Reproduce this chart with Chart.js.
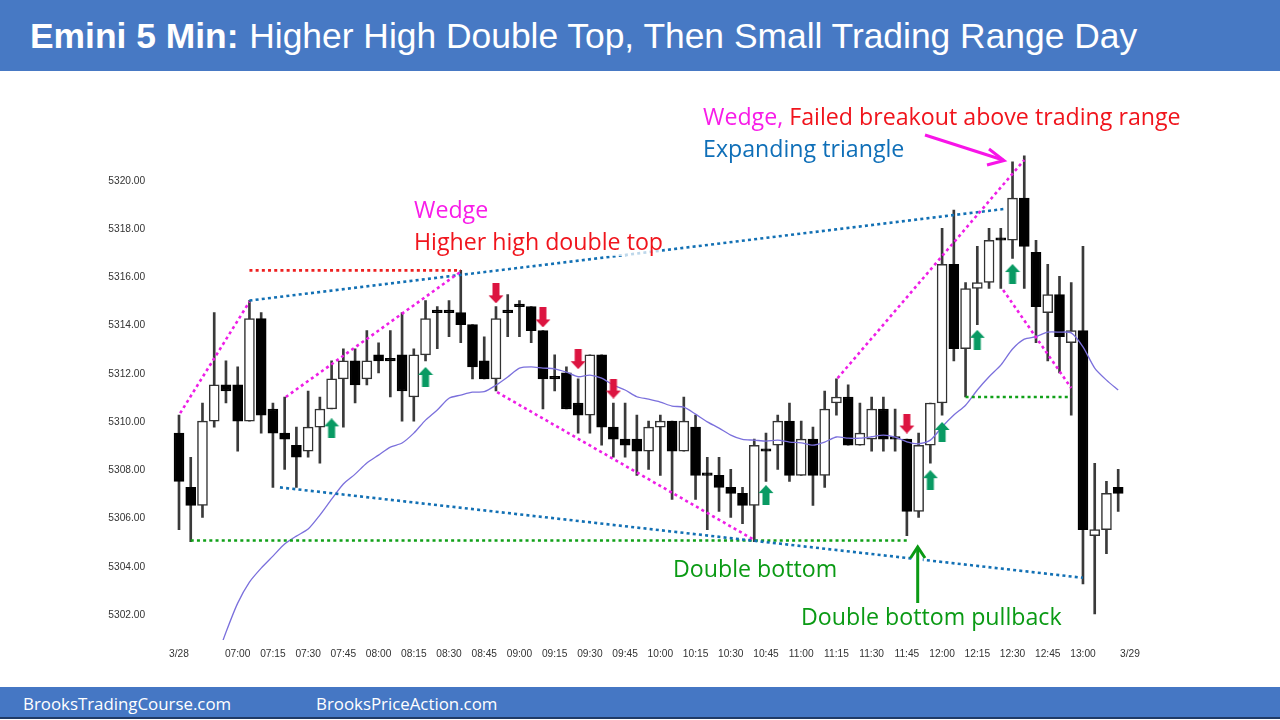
<!DOCTYPE html>
<html>
<head>
<meta charset="utf-8">
<title>Emini 5 Min</title>
<script src="https://cdn.jsdelivr.net/npm/chart.js@4"></script>
<style>
  html, body { margin: 0; padding: 0; background: #fff; }
  #wrap { position: relative; width: 1280px; height: 720px; overflow: hidden; }
  canvas { position: absolute; left: 0; top: 0; }
  .banner { position: absolute; left: 0; top: 0; width: 1280px; height: 70.5px; background: #4779c4; }
  .title { position: absolute; left: 30px; top: 16px; color: #fff; font: 35.4px "Liberation Sans", sans-serif; white-space: nowrap; }
  .title b { margin-right: 1px; }
  .footer { position: absolute; left: 0; top: 687px; width: 1280px; background: #4577c4; border-bottom: 2px solid #1f3a66; height: 30px; }
  .site { position: absolute; top: 5px; color: #fff; font: 16.85px "Open Sans", sans-serif; white-space: nowrap; }
  .note { position: absolute; font: 23.2px "Open Sans", sans-serif; white-space: nowrap; line-height: 28px; }
  .fade { position: absolute; left: 550px; top: 232px; width: 112px; height: 24px; background: rgba(255,255,255,0.72); }
  svg { position: absolute; left: 0; top: 0; }
</style>
</head>
<body>
<div id="wrap">
  <canvas id="chart" width="1280" height="720"></canvas>
  <div class="banner"></div>
  <div class="title"><b>Emini 5 Min:</b> Higher High Double Top, Then Small Trading Range Day</div>
  <div class="footer">
    <span class="site" style="left:23px">BrooksTradingCourse.com</span>
    <span class="site" style="left:316px">BrooksPriceAction.com</span>
  </div>
  <div class="fade"></div>
  <svg width="1280" height="720" fill="none">
    <polyline points="917.7,603 917.7,548" stroke="#fff" stroke-width="10"/>
    <polyline points="917.7,603 917.7,548" stroke="#0a9a14" stroke-width="3"/>
    <polyline points="910.5,558 917.7,547 925,558" stroke="#0a9a14" stroke-width="3"/>
    <polyline points="925,135 1003,160" stroke="#f814e8" stroke-width="3"/>
    <polyline points="989,149 1004,160.5 987,165" stroke="#f814e8" stroke-width="3"/>
  </svg>
  <div class="note" style="left:703px;top:102px"><span style="color:#f81ce8">Wedge,</span> <span style="color:#f0141c">Failed breakout above trading range</span></div>
  <div class="note" style="left:703px;top:134px;color:#0f6fb8">Expanding triangle</div>
  <div class="note" style="left:414px;top:195px;color:#f81ce8">Wedge</div>
  <div class="note" style="left:414px;top:227px;color:#f0141c">Higher high double top</div>
  <div class="note" style="left:673px;top:554px;color:#0a9a14">Double bottom</div>
  <div class="note" style="left:801px;top:602px;color:#0a9a14">Double bottom pullback</div>
</div>
<script>
// 5 minute bars, first bar is 06:35
const barOpen = [
  5309.5, 5307.25, 5306.5, 5310, 5311.5, 5311.5, 5310, 5314.25, 5310.5, 5309.5,
  5309, 5308.75, 5309.75, 5310.5, 5311.75, 5312.5, 5311.75, 5312.75, 5312.5, 5312.75,
  5311, 5312.75, 5314.5, 5314.5, 5314.5, 5314, 5312.5, 5311.75, 5314.5, 5314.75,
  5314.75, 5313.75, 5311.75, 5312, 5310.75, 5310.25, 5312.75, 5309.75, 5309.25, 5309.25,
  5308.75, 5309.75, 5310, 5308.75, 5309.75, 5307.75, 5307.75, 5307.25, 5307, 5306.5,
  5308.75, 5309, 5310, 5307.75, 5309.25, 5307.75, 5310.75, 5311, 5309, 5309.25,
  5310.5, 5309.25, 5309.25, 5306.25, 5309, 5310.75, 5316.5, 5313, 5315.5, 5315.75,
  5317.5, 5317.5, 5319.25, 5317, 5314.5, 5315.25, 5313.25, 5313.75, 5305.25, 5305.5,
  5307.25
];
const barHigh = [
  5310.25, 5308.5, 5310.75, 5314.5, 5312.5, 5312.25, 5315, 5314.5, 5310.75, 5311,
  5309.75, 5311.25, 5311, 5312.5, 5313, 5313, 5313.75, 5313.25, 5313.75, 5314.5,
  5313, 5315, 5314.75, 5315, 5316.25, 5314, 5313.5, 5314.75, 5315.25, 5315,
  5314.75, 5313.75, 5312.75, 5312.25, 5311.75, 5312.75, 5312.75, 5310.75, 5310.75, 5310.25,
  5310, 5310.25, 5310, 5311, 5310.25, 5308.5, 5308.5, 5308, 5307.25, 5309.25,
  5309.5, 5310.25, 5310.75, 5310, 5309.75, 5311.25, 5311.75, 5311.5, 5310.75, 5311,
  5311, 5310.5, 5309.25, 5309.5, 5310.75, 5318, 5318.75, 5315.75, 5317.25, 5318,
  5318, 5320.75, 5321, 5317.5, 5316.5, 5316, 5315.75, 5317.25, 5308.25, 5307.5,
  5308
];
const barLow = [
  5305.5, 5305, 5306, 5309.75, 5310.75, 5308.75, 5310, 5309.5, 5307.25, 5308,
  5307.25, 5308.5, 5308.25, 5310.5, 5309.75, 5310.75, 5311.5, 5312, 5311, 5310,
  5310, 5312.5, 5313, 5313.5, 5313.25, 5311.75, 5311.75, 5311.25, 5313.5, 5313.5,
  5313.25, 5310.5, 5311.25, 5310.5, 5309.5, 5309.5, 5309, 5308.5, 5308.5, 5307.75,
  5308, 5307.75, 5306.75, 5308.75, 5306.75, 5305.5, 5306.25, 5306, 5305.75, 5305,
  5307.5, 5308, 5307.5, 5307.75, 5306.5, 5307.25, 5310.25, 5309, 5309, 5308.75,
  5308.75, 5308.75, 5305.25, 5306, 5308.25, 5310.25, 5312.5, 5311, 5314, 5315.5,
  5315.5, 5316.75, 5315.5, 5313.25, 5312.5, 5312, 5310.25, 5303.25, 5302, 5304.5,
  5306.25
];
const barClose = [
  5307.5, 5306.5, 5310, 5311.5, 5311.25, 5310, 5314.25, 5310.25, 5309.5, 5309.25,
  5308.5, 5309.75, 5310.5, 5311.75, 5312.5, 5311.5, 5312.5, 5312.5, 5312.5, 5311.25,
  5312.75, 5314.25, 5314.5, 5314.5, 5314, 5312.25, 5311.75, 5314.25, 5314.5, 5314.75,
  5313.75, 5311.75, 5311.75, 5310.5, 5310.25, 5312.75, 5309.75, 5309.25, 5309, 5308.75,
  5309.75, 5310, 5308.75, 5310, 5307.75, 5307.75, 5307.25, 5307, 5306.5, 5309,
  5308.75, 5310, 5307.75, 5309.25, 5307.75, 5310.5, 5311, 5309, 5309.5, 5310.5,
  5309.25, 5309.25, 5306.25, 5309, 5310.75, 5316.5, 5313, 5315.5, 5315.75, 5317.5,
  5317.5, 5319.25, 5317.25, 5314.75, 5315.25, 5313.5, 5313.75, 5305.5, 5305.5, 5307,
  5307
];

// moving average, starts at bar 3 just below the axis
const emaStart = 3;
const emaValues = [
  5299.88, 5301.24, 5302.45, 5303.32, 5303.9, 5304.4, 5304.9, 5305.23, 5305.52, 5306.1,
  5306.76, 5307.39, 5307.8, 5308.26, 5308.59, 5308.92, 5309.09, 5309.5, 5310.04, 5310.46,
  5310.95, 5311.08, 5311.2, 5311.22, 5311.49, 5311.83, 5312.2, 5312.25, 5312.2, 5312.17,
  5312.03, 5311.84, 5311.91, 5311.78, 5311.49, 5311.29, 5311.01, 5310.91, 5310.79, 5310.62,
  5310.58, 5310.29, 5309.97, 5309.71, 5309.42, 5309.24, 5309.21, 5309.17, 5309.21, 5309.13,
  5309.1, 5309, 5309.13, 5309.34, 5309.29, 5309.29, 5309.35, 5309.42, 5309.34, 5309.14,
  5309.06, 5309.21, 5309.76, 5310.25, 5310.66, 5311.29, 5311.84, 5312.32, 5312.99, 5313.4,
  5313.5, 5313.69, 5313.69, 5313.66, 5313.08, 5312.2, 5311.7, 5311.29
];

const yTicks = [5302, 5304, 5306, 5308, 5310, 5312, 5314, 5316, 5318, 5320];
const xTickBars = [0, 5, 8, 11, 14, 17, 20, 23, 26, 29, 32, 35, 38, 41, 44, 47, 50, 53, 56, 59, 62, 65, 68, 71, 74, 77, 81];
const xTickLabels = ['3/28', '07:00', '07:15', '07:30', '07:45', '08:00', '08:15', '08:30', '08:45', '09:00', '09:15', '09:30', '09:45', '10:00', '10:15', '10:30', '10:45', '11:00', '11:15', '11:30', '11:45', '12:00', '12:15', '12:30', '12:45', '13:00', '3/29'];

// drawn trend lines, [bar, price] at each end
const wedgeFirstLine = [[0.1, 5310.33], [6, 5314.95]];
const wedgeSecondLine = [[9.1, 5311], [24, 5316.2]];
const wedgeThirdLine = [[56.1, 5311.78], [72, 5320.83]];
const channelDownLine = [[27.1, 5311.2], [49, 5305.07]];
const lastLegLine = [[70.2, 5315.44], [76, 5311.37]];
const triangleTopLine = [[6, 5315], [70.3, 5318.8]];
const triangleBottomLine = [[8.6, 5307.25], [77, 5303.5]];
const priorHighLine = [[6, 5316.25], [24, 5316.25]];
const doubleBottomLine = [[1, 5305.05], [62.2, 5305.05]];
const rangeLowLine = [[67, 5311], [76, 5311]];

const buyArrowBars = [13, 21, 50, 64, 65, 68, 71];
const buyArrowPrices = [5309.7, 5311.83, 5306.93, 5307.55, 5309.55, 5313.37, 5316.1];
const sellArrowBars = [27, 31, 34, 37, 62];
const sellArrowPrices = [5315.3, 5314.3, 5312.57, 5311.35, 5309.9];

function makeArrow(color, up) {
  const c = document.createElement('canvas');
  c.width = 16;
  c.height = 20;
  const g = c.getContext('2d');
  g.fillStyle = color;
  g.translate(0, up ? 0 : 20);
  g.scale(1, up ? 1 : -1);
  g.beginPath();
  g.moveTo(8, 0);
  g.lineTo(15.5, 8);
  g.lineTo(11.5, 8);
  g.lineTo(11.5, 20);
  g.lineTo(4.5, 20);
  g.lineTo(4.5, 8);
  g.lineTo(0.5, 8);
  g.closePath();
  g.fill();
  return c;
}

function dotted(points, color) {
  return {
    type: 'line',
    data: points.map(p => ({ x: p[0], y: p[1] })),
    borderColor: color,
    borderWidth: 2.6,
    borderDash: [3, 3.2],
    pointRadius: 0,
    order: 2
  };
}

function arrows(bars, prices, image) {
  return {
    type: 'line',
    showLine: false,
    data: bars.map((b, i) => ({ x: b, y: prices[i] })),
    pointStyle: image,
    pointRadius: 10,
    order: 1
  };
}

const wickData = barOpen.map((_, i) => ({ x: i, y: [barLow[i], barHigh[i]] }));
const bodyData = barOpen.map((o, i) => ({ x: i, y: [o, barClose[i]] }));
const emaData = emaValues.map((v, i) => ({ x: emaStart + i, y: v }));

new Chart(document.getElementById('chart'), {
  type: 'bar',
  data: {
    datasets: [
      {
        data: wickData,
        backgroundColor: '#3a3a3a',
        barThickness: 2,
        grouped: false,
        order: 5
      },
      {
        data: bodyData,
        backgroundColor: barClose.map((c, i) => (c > barOpen[i] ? '#ffffff' : '#000000')),
        borderColor: barClose.map((c, i) => (c > barOpen[i] ? '#333333' : '#000000')),
        borderWidth: 1.5,
        borderSkipped: false,
        barThickness: 10,
        minBarLength: 2.5,
        grouped: false,
        order: 4
      },
      {
        type: 'line',
        data: emaData,
        borderColor: '#7b70dc',
        borderWidth: 1.3,
        pointRadius: 0,
        tension: 0.25,
        order: 3
      },
      dotted(wedgeFirstLine, '#ee1ee6'),
      dotted(wedgeSecondLine, '#ee1ee6'),
      dotted(wedgeThirdLine, '#ee1ee6'),
      dotted(channelDownLine, '#ee1ee6'),
      dotted(lastLegLine, '#ee1ee6'),
      dotted(triangleTopLine, '#1270b4'),
      dotted(triangleBottomLine, '#1270b4'),
      dotted(priorHighLine, '#ee2020'),
      dotted(doubleBottomLine, '#10a018'),
      dotted(rangeLowLine, '#10a018'),
      arrows(buyArrowBars, buyArrowPrices, makeArrow('#099a63', true)),
      arrows(sellArrowBars, sellArrowPrices, makeArrow('#dc1440', false))
    ]
  },
  options: {
    responsive: false,
    animation: false,
    events: [],
    layout: { padding: { top: 150, right: 144.2, left: 0, bottom: 0 } },
    plugins: { legend: { display: false }, tooltip: { enabled: false } },
    scales: {
      x: {
        type: 'linear',
        min: -0.5,
        max: 81.5,
        offset: false,
        grid: { display: false, drawTicks: false },
        border: { display: false },
        afterFit(scale) { scale.height = 80; },
        afterBuildTicks(scale) { scale.ticks = xTickBars.map(v => ({ value: v })); },
        ticks: {
          autoSkip: false,
          maxRotation: 0,
          padding: 8,
          color: '#333',
          font: { family: 'Liberation Sans', size: 10.2 },
          callback: value => xTickLabels[xTickBars.indexOf(value)]
        }
      },
      y: {
        min: 5300.92,
        max: 5321.245,
        grid: { display: false, drawTicks: false },
        border: { display: false },
        afterFit(scale) { scale.width = 173.13; },
        afterBuildTicks(scale) { scale.ticks = yTicks.map(v => ({ value: v })); },
        ticks: {
          padding: 28,
          labelOffset: 1,
          color: '#333',
          font: { family: 'Liberation Sans', size: 10.2 },
          callback: value => value.toFixed(2)
        }
      }
    }
  }
});
</script>
</body>
</html>
